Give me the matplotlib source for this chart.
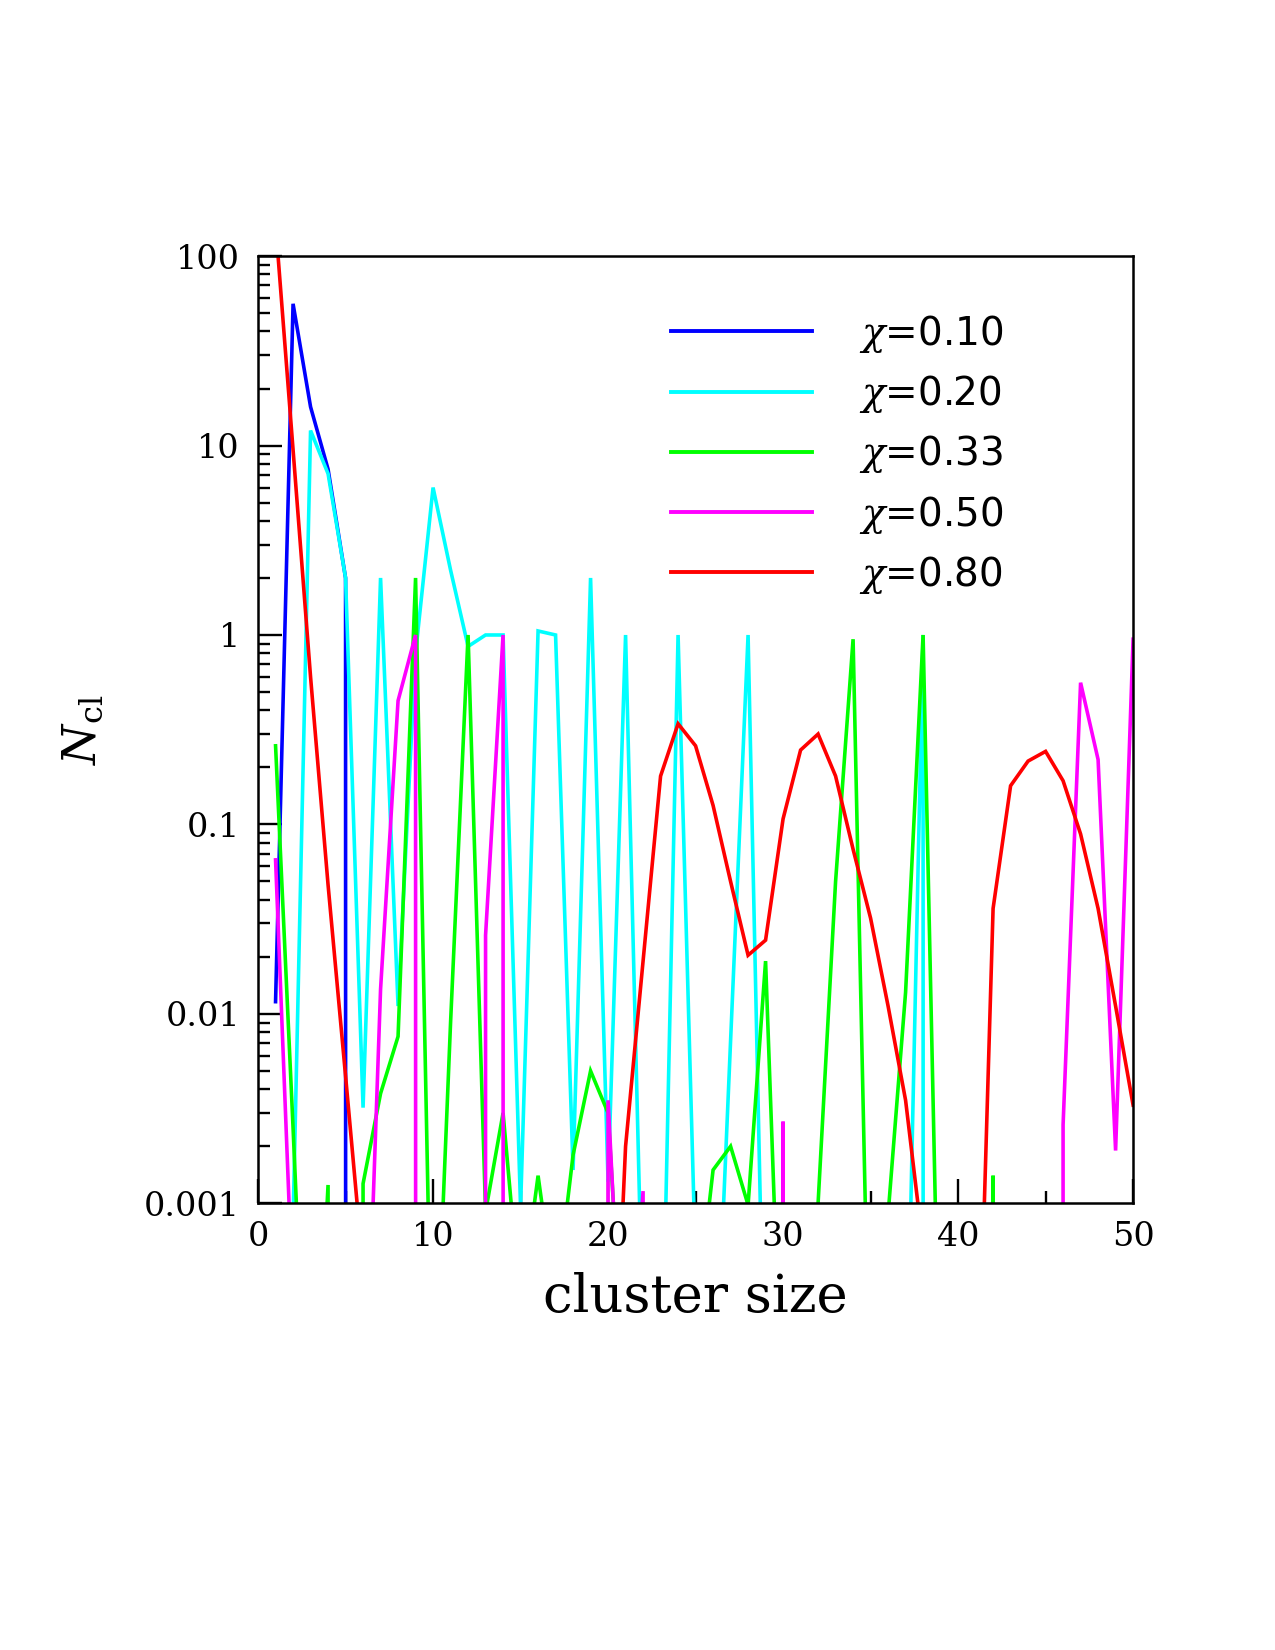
import matplotlib
matplotlib.use("Agg")
import matplotlib.pyplot as plt
from matplotlib.ticker import FixedLocator, FixedFormatter, NullFormatter

plt.rcParams['mathtext.fontset'] = 'dejavuserif'

# cluster sizes 1..50
size = list(range(1, 51))

# N_cl for each chi (0 = empty bin, falls off the log axis)
n_010 = [0.0116, 56, 16, 7.5, 2.0] + [0] * 45

n_020 = [0, 0.0008, 12, 7.1, 2.0, 0.0032, 2.0, 0.011, 0.8, 6.0,
         2.2, 0.87, 1.0, 1.0, 0.00095, 1.05, 1.0, 0.0015, 2.0, 0.0013,
         1.0, 0.00018, 5e-5, 1.0, 0.00047, 5e-5, 0.0072, 1.0, 5e-5, 0,
         0, 0, 0, 0, 0, 0, 5e-5, 1.0, 0, 0,
         0, 0, 0, 0, 0, 0, 0, 0, 0, 0]

n_033 = [0.26, 0.0025, 2e-5, 0.00125, 0, 0.00127, 0.0038, 0.0076, 2.0, 5e-5,
         0.009, 1.0, 0.0009, 0.003, 0.00028, 0.0014, 0.0003, 0.0018, 0.005, 0.003,
         8e-5, 0, 0, 0, 0.00023, 0.0015, 0.002, 0.00098, 0.019, 5e-5,
         0, 0.001, 0.05, 0.95, 5e-5, 0.00087, 0.013, 1.0, 5e-5, 0,
         0, 0.0014, 0, 0, 0, 0, 0, 0, 0, 0]

n_050 = [0.065, 0.00029, 0, 0, 0, 3e-5, 0.0135, 0.45, 1.0, 0,
         0, 0, 0.026, 1.0, 0, 0, 0, 0, 0, 0.0035,
         5.5e-5, 0.00116, 0, 0, 0, 0, 0, 0, 0, 0.0027,
         0, 0, 0, 0, 0, 0, 0, 0, 0, 0,
         0, 0, 0, 0, 0, 0.0026, 0.56, 0.22, 0.0019, 0.95]

n_080 = [148, 9.5, 0.6, 0.048, 0.0047, 0.00045, 0, 0, 0, 0,
         0, 0, 0, 0, 0, 0, 0, 0, 0, 1.7e-5,
         0.002, 0.019, 0.18, 0.34, 0.26, 0.126, 0.05, 0.0204, 0.0245, 0.107,
         0.247, 0.30, 0.18, 0.074, 0.032, 0.011, 0.0035, 0.00059, 0, 0,
         2.75e-5, 0.036, 0.16, 0.216, 0.243, 0.17, 0.089, 0.036, 0.011, 0.0033]

labels = [r'$\chi$=0.10', r'$\chi$=0.20', r'$\chi$=0.33', r'$\chi$=0.50', r'$\chi$=0.80']
colors = ['#0000ff', '#00ffff', '#00ff00', '#ff00ff', '#ff0000']

fig = plt.figure(figsize=(12.75, 16.5), dpi=100)
ax = fig.add_axes([0.2024, 0.2707, 0.6863, 0.5741])
ax.set_yscale('log', nonpositive='clip')

for series, lab, col in zip([n_010, n_020, n_033, n_050, n_080], labels, colors):
    ax.plot(size, series, color=col, lw=2.6, label=lab, solid_joinstyle='miter')

ax.set_xlim(0, 50)
ax.set_ylim(0.001, 100)

for s in ax.spines.values():
    s.set_linewidth(1.8)

# y ticks
ax.yaxis.set_major_locator(FixedLocator([0.001, 0.01, 0.1, 1, 10, 100]))
ax.yaxis.set_major_formatter(FixedFormatter(['0.001', '0.01', '0.1', '1', '10', '100']))
ax.yaxis.set_minor_locator(FixedLocator([m * 10.0 ** e for e in range(-3, 2) for m in range(2, 10)]))
ax.yaxis.set_minor_formatter(NullFormatter())
ax.xaxis.set_major_locator(FixedLocator([0, 10, 20, 30, 40, 50]))
ax.xaxis.set_minor_locator(FixedLocator([5, 15, 25, 35, 45]))

ax.tick_params(which='both', direction='in', top=False, right=False, width=1.7, labelsize=24)
ax.tick_params(which='major', length=17)
ax.tick_params(which='minor', length=8.5)
ax.tick_params(axis='y', pad=13)
ax.tick_params(axis='x', pad=13)
for t in ax.get_xticklabels() + ax.get_yticklabels():
    t.set_fontfamily('DejaVu Serif')

ax.set_xlabel('cluster size', fontsize=38, family='DejaVu Serif')
ax.xaxis.set_label_coords(0.5, -0.072)
ax.set_ylabel(r'$N_{\mathrm{cl}}$', fontsize=33)
ax.yaxis.set_label_coords(-0.174, 0.5)

leg = ax.legend(loc='upper left', bbox_to_anchor=(0.4717, 0.94), frameon=False,
                fontsize=28, handlelength=3.62, handletextpad=1.23,
                labelspacing=0.47, borderpad=0, borderaxespad=0)
for line in leg.get_lines():
    line.set_linewidth(2.8)

fig.savefig('out.png', dpi=100)
